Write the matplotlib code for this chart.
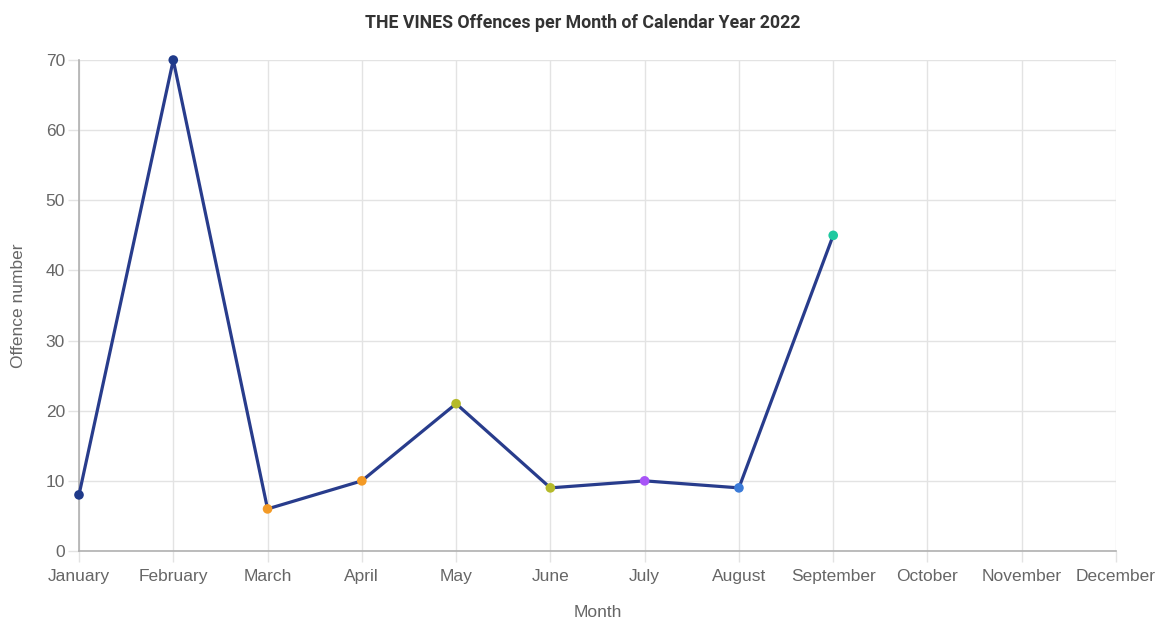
import matplotlib.pyplot as plt

months = ['January', 'February', 'March', 'April', 'May', 'June', 'July',
          'August', 'September', 'October', 'November', 'December']
offences = [8, 70, 6, 10, 21, 9, 10, 9, 45]
point_colors = ['#1f3a8a', '#1f3a8a', '#f39a26', '#f39a26', '#b5ba2a',
                '#b5ba2a', '#a855f7', '#3b7bd8', '#1fc9a0']
yticks = [0, 10, 20, 30, 40, 50, 60, 70]

fig = plt.figure(figsize=(11.6, 6.2), dpi=100)
ax = fig.add_axes([0.0681, 0.1113, 0.8940, 0.7919])

x = list(range(len(offences)))
ax.plot(x, offences, color='#283c8c', linewidth=2.3, zorder=3, clip_on=False)
ax.scatter(x, offences, c=point_colors, s=48, zorder=4, edgecolors='none', clip_on=False)

ax.set_xlim(0, len(months) - 1)
ax.set_ylim(0, 70)
ax.set_xticks(range(len(months)))
ax.set_xticklabels(months)
ax.set_yticks(yticks)

ax.grid(True, color='#e3e3e3', linewidth=1)
ax.set_axisbelow(True)
for s in ['top', 'right']:
    ax.spines[s].set_visible(False)
ax.spines['left'].set_color('#b0b0b0')
ax.spines['bottom'].set_color('#b0b0b0')
ax.spines['left'].set_linewidth(1.2)
ax.spines['bottom'].set_linewidth(1.2)
ax.tick_params(axis='both', colors='#e3e3e3', length=8, width=1,
               labelcolor='#666666', labelsize=12.5, pad=2)
ax.tick_params(axis='x', pad=5)
for lab in ax.get_xticklabels() + ax.get_yticklabels():
    lab.set_family('Liberation Sans')

ax.set_xlabel('Month', fontsize=12.5, color='#666666', family='Liberation Sans', labelpad=15)
ax.set_ylabel('Offence number', fontsize=12.5, color='#666666', family='Liberation Sans', labelpad=14)
fig.suptitle('THE VINES Offences per Month of Calendar Year 2022', x=0.502, y=0.977,
             fontsize=12.8, fontweight='bold', color='#333333', family='Roboto')

fig.savefig('out.png', dpi=100)
